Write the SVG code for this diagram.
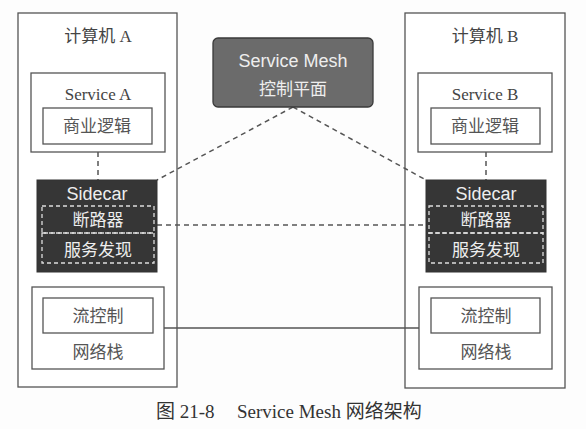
<svg xmlns="http://www.w3.org/2000/svg" width="586" height="429" viewBox="0 0 586 429">
<style>
.box{fill:#fff;stroke:#555;stroke-width:1.3}
.side{fill:#363636;stroke:#333;stroke-width:1}
.inner{fill:none;stroke:#ddd;stroke-width:1.3;stroke-dasharray:4 3}
.ctrl{fill:#6b6b6b;stroke:#3a3a3a;stroke-width:1.3}
.dash{fill:none;stroke:#555;stroke-width:1.5;stroke-dasharray:5 4}
.solid{fill:none;stroke:#555;stroke-width:1.3}
.ser{font-family:"Liberation Serif","Noto Sans CJK SC",serif;font-size:17px;fill:#444;text-anchor:middle}
.cjk{font-family:"Noto Sans CJK SC",sans-serif;font-size:17px;fill:#555;text-anchor:middle}
.wt{font-family:"Liberation Sans","Noto Sans CJK SC",sans-serif;font-size:18px;fill:#eee;text-anchor:middle}
.wc{font-family:"Noto Sans CJK SC",sans-serif;font-size:17px;fill:#eee;text-anchor:middle}
.cap{font-family:"Liberation Serif","Noto Sans CJK SC",serif;font-size:19px;fill:#333}
</style>
<rect width="586" height="429" fill="#fdfdfd"/>
<g id="machineA">
<rect class="box" x="18" y="13" width="159" height="374"/>
<text class="ser" x="98" y="42">计算机 A</text>
</g>
<g id="machineB">
<rect class="box" x="405" y="13" width="160" height="375"/>
<text class="ser" x="485" y="42">计算机 B</text>
</g>
<g id="connectors">
<line class="dash" x1="98" y1="152" x2="98" y2="180"/>
<line class="dash" x1="486" y1="152" x2="486" y2="180"/>
<line class="dash" x1="293" y1="107" x2="157" y2="180"/>
<line class="dash" x1="293" y1="107" x2="426" y2="180"/>
<line class="dash" x1="157" y1="225" x2="426" y2="225"/>
<line class="solid" x1="164" y1="328" x2="419" y2="328"/>
</g>
<g id="control">
<rect class="ctrl" x="213" y="38" width="160" height="69" rx="5"/>
<text class="wt" x="293" y="67">Service Mesh</text>
<text class="wc" x="293" y="95">控制平面</text>
</g>
<g id="serviceA">
<rect class="box" x="31" y="73" width="134" height="79"/>
<text class="ser" x="98" y="100">Service A</text>
<rect class="box" x="43" y="108" width="109" height="36"/>
<text class="cjk" x="97" y="132">商业逻辑</text>
</g>
<g id="serviceB">
<rect class="box" x="418" y="73" width="134" height="79"/>
<text class="ser" x="485" y="100">Service B</text>
<rect class="box" x="431" y="108" width="109" height="36"/>
<text class="cjk" x="485" y="132">商业逻辑</text>
</g>
<g id="sidecarA">
<rect class="side" x="37" y="180" width="120" height="92"/>
<text class="wt" x="97" y="200">Sidecar</text>
<rect class="inner" x="42" y="206" width="112" height="27"/>
<rect class="inner" x="42" y="233" width="112" height="30"/>
<text class="wc" x="98" y="226">断路器</text>
<text class="wc" x="98" y="256">服务发现</text>
</g>
<g id="sidecarB">
<rect class="side" x="426" y="180" width="120" height="92"/>
<text class="wt" x="486" y="200">Sidecar</text>
<rect class="inner" x="429" y="206" width="114" height="27"/>
<rect class="inner" x="429" y="233" width="114" height="30"/>
<text class="wc" x="486" y="226">断路器</text>
<text class="wc" x="486" y="256">服务发现</text>
</g>
<g id="netA">
<rect class="box" x="32" y="287" width="132" height="82"/>
<rect class="box" x="43" y="298" width="110" height="35"/>
<text class="cjk" x="98" y="322">流控制</text>
<text class="cjk" x="98" y="358">网络栈</text>
</g>
<g id="netB">
<rect class="box" x="419" y="287" width="133" height="82"/>
<rect class="box" x="431" y="298" width="109" height="35"/>
<text class="cjk" x="486" y="322">流控制</text>
<text class="cjk" x="486" y="358">网络栈</text>
</g>
<g id="caption">
<text class="cap" x="156" y="418">图 21-8</text>
<text class="cap" x="237" y="418">Service Mesh 网络架构</text>
</g>
</svg>
